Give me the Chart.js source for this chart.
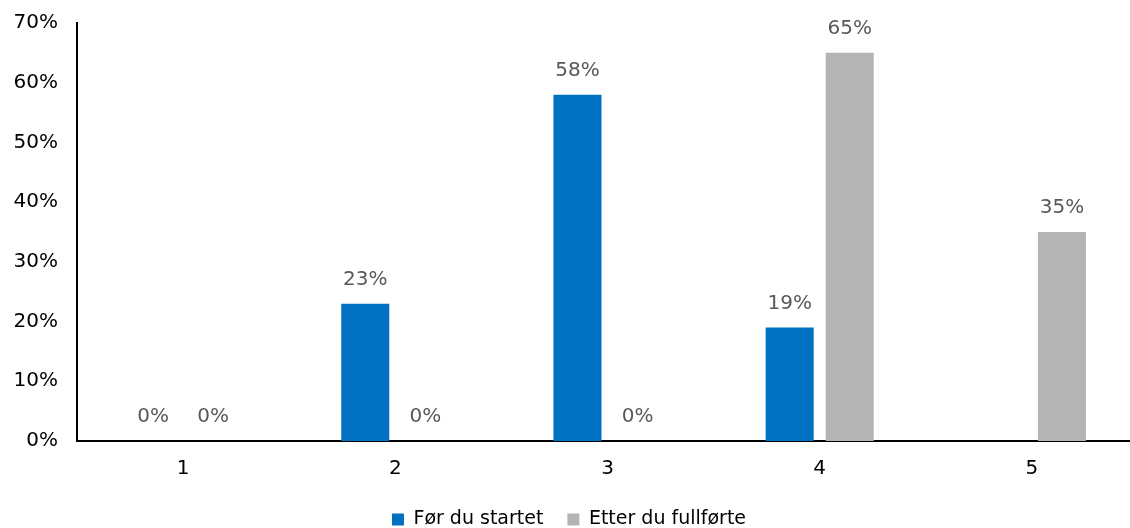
<!DOCTYPE html>
<html>
<head>
<meta charset="utf-8">
<script src="https://cdn.jsdelivr.net/npm/chart.js@4"></script>
<style>
  html, body { margin: 0; padding: 0; background: #fff; overflow: hidden; }
  #wrap { width: 1138px; height: 528px; position: relative; }
</style>
</head>
<body>
<div id="wrap"><canvas id="chart"></canvas></div>
<script>
const categories = ['1', '2', '3', '4', '5'];
const forStart = [0, 23, 58, 19, null];
const etterFullfort = [0, 0, 0, 65, 35];
const yTicks = [0, 10, 20, 30, 40, 50, 60, 70];

const FONT = "'DejaVu Sans', sans-serif";

// skriver verdien over hver søyle
const valueLabels = {
  id: 'valueLabels',
  afterDatasetsDraw(chart) {
    const ctx = chart.ctx;
    ctx.save();
    ctx.font = '20px ' + FONT;
    ctx.fillStyle = '#595959';
    ctx.textAlign = 'center';
    ctx.textBaseline = 'middle';
    chart.data.datasets.forEach((ds, i) => {
      chart.getDatasetMeta(i).data.forEach((bar, j) => {
        const v = ds.data[j];
        if (v === null || v === undefined) return;
        ctx.fillText(v + '%', bar.x, bar.y - 24);
      });
    });
    ctx.restore();
  }
};

// gjør legenden lavere så den ligger nærmere bunnkanten
const legendShrink = {
  id: 'legendShrink',
  beforeLayout(chart) {
    const legend = chart.legend;
    if (!legend || legend._shrunk) return;
    const fit = legend.fit;
    legend.fit = function () {
      fit.call(this);
      this.height -= 11;
    };
    legend._shrunk = true;
  }
};

new Chart(document.getElementById('chart'), {
  type: 'bar',
  data: {
    labels: categories,
    datasets: [{
      label: 'Før du startet',
      data: forStart,
      backgroundColor: '#0070C0',
      barPercentage: 0.8,
      categoryPercentage: 0.566
    }, {
      label: 'Etter du fullførte',
      data: etterFullfort,
      backgroundColor: '#B4B4B4',
      barPercentage: 0.8,
      categoryPercentage: 0.566
    }]
  },
  options: {
    responsive: true,
    maintainAspectRatio: false,
    animation: false,
    layout: { padding: { top: 23, right: 0, bottom: 0, left: 0 } },
    plugins: {
      tooltip: { enabled: false },
      legend: {
        position: 'bottom',
        labels: {
          color: '#000',
          font: { family: FONT, size: 19 },
          boxWidth: 12,
          boxHeight: 12,
          padding: 24
        }
      }
    },
    scales: {
      x: {
        grid: { display: false, drawTicks: false },
        border: { color: '#000', width: 2 },
        ticks: { color: '#000', font: { family: FONT, size: 20 }, padding: 16 },
        afterFit(scale) { scale.height = 45; }
      },
      y: {
        min: 0,
        max: 70,
        grid: { display: false, drawTicks: false },
        border: { color: '#000', width: 2 },
        afterBuildTicks(scale) { scale.ticks = yTicks.map(v => ({ value: v })); },
        ticks: {
          color: '#000',
          font: { family: FONT, size: 20 },
          padding: 19,
          callback: v => v + '%'
        },
        afterFit(scale) {
          scale.width = 77;
          scale.paddingTop = 0;
          scale.paddingBottom = 0;
        }
      }
    }
  },
  plugins: [valueLabels, legendShrink]
});
</script>
</body>
</html>
